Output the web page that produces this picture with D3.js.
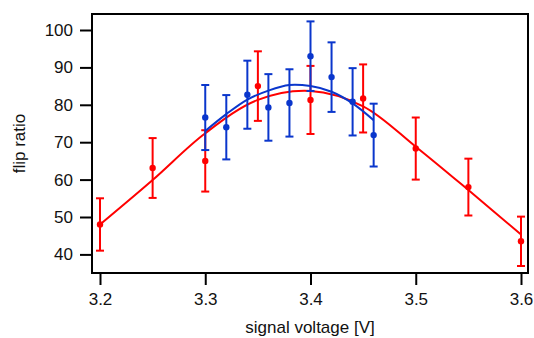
<!DOCTYPE html>
<html lang="en">
<head>
<meta charset="UTF-8">
<title>Flip ratio vs signal voltage</title>
<style>
  body { margin: 0; background: #fff; }
  svg { display: block; font-family: "Liberation Sans", Arial, sans-serif; }
  .tick-label { font-size: 17px; fill: #111; }
  .axis-title { font-size: 17px; fill: #111; }
</style>
</head>
<body>
<svg width="534" height="338"></svg>
<script src="https://d3js.org/d3.v7.min.js"></script>
<script>
// measured points with error bars
const redX   = [3.20, 3.25, 3.30, 3.35, 3.40, 3.45, 3.50, 3.55, 3.60];
const redY   = [48.0, 63.1, 65.0, 85.0, 81.3, 81.7, 68.3, 58.0, 43.5];
const redErr = [7.0, 8.0, 8.2, 9.3, 9.1, 9.1, 8.3, 7.6, 6.6];

const blueX   = [3.30, 3.32, 3.34, 3.36, 3.38, 3.40, 3.42, 3.44, 3.46];
const blueY   = [76.6, 74.0, 82.7, 79.3, 80.5, 93.0, 87.4, 80.8, 71.9];
const blueErr = [8.7, 8.6, 9.1, 8.9, 9.0, 9.3, 9.3, 9.0, 8.4];

// fitted curves
const redFitX  = [3.20, 3.25, 3.30, 3.35, 3.40, 3.45, 3.50, 3.55, 3.60];
const redFitY  = [48.0, 59.9, 72.4, 81.3, 83.7, 79.6, 68.8, 57.2, 45.3];
const blueFitX = [3.30, 3.32, 3.34, 3.36, 3.38, 3.40, 3.42, 3.44, 3.46];
const blueFitY = [73.0, 77.5, 81.4, 83.8, 85.3, 85.0, 83.5, 80.4, 75.9];

const xTicks = [3.2, 3.3, 3.4, 3.5, 3.6];
const yTicks = [40, 50, 60, 70, 80, 90, 100];

const RED = "#ff0000";
const BLUE = "#0a36cc";

const svg = d3.select("svg");
const frame = {left: 92, top: 14, right: 528, bottom: 273};

const x = d3.scaleLinear().domain([3.2, 3.6]).range([100, 521]);
const y = d3.scaleLinear().domain([40, 100]).range([254.4, 30]);

// x axis
const xAxis = d3.axisBottom(x).tickValues(xTicks).tickSize(12).tickPadding(8)
    .tickFormat(d3.format(".1f"));
const gx = svg.append("g")
    .attr("transform", `translate(0,${frame.bottom})`)
    .call(xAxis);
gx.select(".domain").remove();
gx.selectAll("line").attr("stroke", "#000").attr("stroke-width", 2);
gx.selectAll("text").attr("class", "tick-label").attr("font-size", null).attr("font-family", null);

// y axis
const yAxis = d3.axisLeft(y).tickValues(yTicks).tickSize(12).tickPadding(7);
const gy = svg.append("g")
    .attr("transform", `translate(${frame.left},0)`)
    .call(yAxis);
gy.select(".domain").remove();
gy.selectAll("line").attr("stroke", "#000").attr("stroke-width", 2);
gy.selectAll("text").attr("class", "tick-label").attr("font-size", null).attr("font-family", null);

svg.append("text")
    .attr("class", "axis-title")
    .attr("x", (frame.left + frame.right) / 2)
    .attr("y", 333)
    .attr("text-anchor", "middle")
    .text("signal voltage [V]");

svg.append("text")
    .attr("class", "axis-title")
    .attr("transform", `translate(25,${(frame.top + frame.bottom) / 2}) rotate(-90)`)
    .attr("text-anchor", "middle")
    .text("flip ratio");

const plot = svg.append("g");

function drawPoints(xs, ys, errs, color) {
  const data = xs.map((v, i) => ({x: v, y: ys[i], e: errs[i]}));
  const g = plot.append("g").attr("stroke", color).attr("stroke-width", 2);
  g.selectAll(".bar").data(data).enter().append("line")
      .attr("x1", d => x(d.x)).attr("x2", d => x(d.x))
      .attr("y1", d => y(d.y - d.e)).attr("y2", d => y(d.y + d.e));
  g.selectAll(".capT").data(data).enter().append("line")
      .attr("x1", d => x(d.x) - 4).attr("x2", d => x(d.x) + 4)
      .attr("y1", d => y(d.y + d.e)).attr("y2", d => y(d.y + d.e));
  g.selectAll(".capB").data(data).enter().append("line")
      .attr("x1", d => x(d.x) - 4).attr("x2", d => x(d.x) + 4)
      .attr("y1", d => y(d.y - d.e)).attr("y2", d => y(d.y - d.e));
  plot.append("g").selectAll("circle").data(data).enter().append("circle")
      .attr("cx", d => x(d.x)).attr("cy", d => y(d.y))
      .attr("r", 3.2).attr("fill", color);
}

function drawFit(xs, ys, color) {
  const line = d3.line().x(d => x(d[0])).y(d => y(d[1])).curve(d3.curveCatmullRom);
  plot.append("path")
      .datum(xs.map((v, i) => [v, ys[i]]))
      .attr("d", line)
      .attr("fill", "none")
      .attr("stroke", color)
      .attr("stroke-width", 2);
}

drawPoints(redX, redY, redErr, RED);
drawFit(redFitX, redFitY, RED);
drawPoints(blueX, blueY, blueErr, BLUE);
drawFit(blueFitX, blueFitY, BLUE);

// frame
svg.append("rect")
    .attr("x", frame.left).attr("y", frame.top)
    .attr("width", frame.right - frame.left)
    .attr("height", frame.bottom - frame.top)
    .attr("fill", "none").attr("stroke", "#000").attr("stroke-width", 2);
</script>
</body>
</html>
